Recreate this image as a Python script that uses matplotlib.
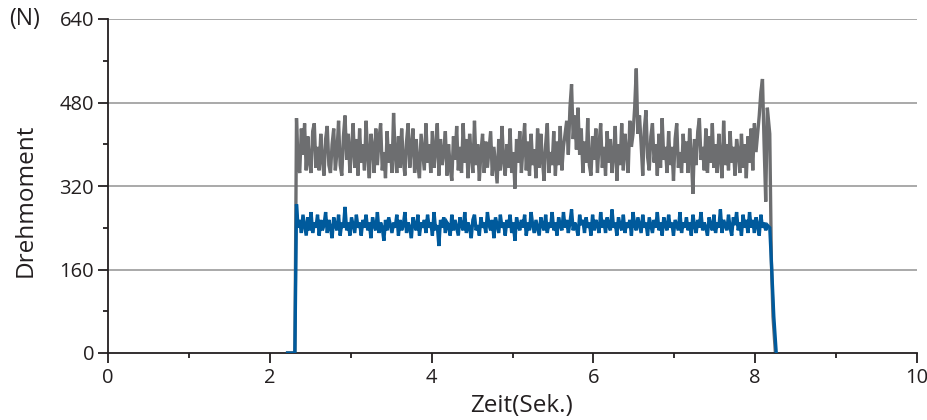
import numpy as np
import matplotlib
matplotlib.use("Agg")
import matplotlib.pyplot as plt
from matplotlib.ticker import MultipleLocator

plt.rcParams['font.family'] = ['Open Sans', 'DejaVu Sans']

# sampled section (time start / step of recording)
t0 = 2.33
dt = 0.02

gray_vals = [
    450, 360, 345, 430, 380, 440, 350, 415, 365, 345,
    425, 440, 355, 395, 350, 420, 370, 340, 410, 435,
    360, 345, 400, 430, 350, 385, 445, 360, 340, 415,
    455, 370, 420, 345, 390, 440, 355, 410, 340, 430,
    365, 400, 350, 445, 380, 335, 420, 395, 345, 430,
    360, 410, 440, 350, 385, 335, 425, 365, 400, 345,
    460, 380, 345, 415, 355, 430, 370, 340, 405, 440,
    355, 395, 430, 345, 410, 360, 335, 420, 385, 350,
    440, 365, 400, 345, 425, 355, 390, 440, 340, 410,
    360, 385, 425, 340, 400, 355, 330, 415, 370, 435,
    350, 395, 345, 440, 365, 410, 335, 420, 380, 345,
    445, 360, 400, 330, 385, 420, 345, 405, 355, 390,
    425, 340, 395, 360, 325, 410, 350, 435, 370, 340,
    400, 355, 430, 345, 385, 315, 410, 365, 425, 345,
    395, 440, 350, 405, 340, 420, 360, 390, 335, 430,
    355, 420, 370, 330, 400, 440, 345, 385, 360, 425,
    340, 405, 360, 435, 350, 395, 420, 445, 380, 470,
    515, 410, 455, 390, 470, 380, 430, 345, 405, 365,
    450, 360, 340, 415, 370, 430, 345, 400, 440, 355,
    395, 340, 425, 365, 410, 345, 380, 435, 330, 400,
    360, 440, 350, 420, 385, 345, 445, 395, 420, 470,
    545, 420, 455, 400, 340, 430, 465, 375, 350, 415,
    440, 365, 400, 340, 420, 355, 450, 370, 395, 345,
    425, 360, 395, 330, 410, 440, 355, 385, 345, 420,
    365, 405, 345, 430, 380, 305, 410, 360, 425, 450,
    370, 395, 350, 430, 345, 415, 365, 440, 355, 400,
    345, 420, 375, 335, 445, 360, 400, 350, 425, 365,
    395, 340, 410, 385, 345, 420, 355, 400, 335, 415,
    365, 430, 350, 440, 385, 420, 455, 500, 525, 400,
    290, 470,
]

blue_vals = [
    285, 240, 255, 230, 265, 245, 225, 260, 235, 270,
    230, 250, 240, 265, 225, 255, 235, 245, 270, 230,
    255, 240, 220, 260, 245, 235, 265, 225, 250, 240,
    280, 235, 250, 225, 260, 245, 230, 265, 240, 250,
    225, 255, 240, 265, 235, 250, 220, 260, 245, 235,
    270, 230, 250, 240, 215, 255, 235, 260, 245, 230,
    250, 240, 265, 225, 255, 235, 245, 270, 230, 250,
    240, 220, 260, 245, 235, 265, 225, 250, 240, 255,
    230, 265, 240, 250, 225, 270, 235, 245, 205, 255,
    240, 260, 230, 250, 245, 225, 265, 235, 255, 240,
    225, 260, 245, 235, 270, 230, 250, 240, 220, 255,
    265, 235, 245, 225, 260, 240, 250, 230, 270, 245,
    235, 255, 220, 260, 245, 230, 265, 240, 250, 225,
    255, 240, 265, 230, 250, 215, 260, 245, 235, 255,
    240, 265, 225, 250, 235, 270, 245, 230, 255, 240,
    225, 260, 245, 235, 265, 230, 250, 240, 270, 235,
    250, 225, 260, 245, 235, 270, 240, 255, 230, 250,
    275, 235, 250, 240, 225, 265, 245, 255, 230, 260,
    240, 250, 225, 265, 235, 255, 245, 230, 270, 240,
    255, 230, 260, 245, 235, 275, 240, 250, 225, 260,
    245, 235, 265, 230, 250, 240, 255, 225, 270, 245,
    235, 260, 245, 230, 265, 240, 250, 225, 260, 245,
    230, 255, 240, 270, 235, 250, 225, 260, 245, 235,
    265, 240, 250, 225, 255, 245, 235, 270, 230, 250,
    240, 260, 235, 250, 225, 265, 245, 230, 255, 240,
    270, 235, 250, 240, 225, 260, 245, 235, 265, 230,
    250, 240, 275, 230, 255, 245, 235, 265, 240, 225,
    260, 245, 270, 235, 250, 225, 265, 240, 255, 230,
    270, 240, 255, 230, 260, 245, 225, 265, 240, 250,
    235, 245,
]

# rise / fall edges
gray_start_t = [2.22, 2.31]
gray_start_v = [0, 0]
gray_end_t = [8.18, 8.20, 8.22, 8.25]
gray_end_v = [420, 175, 70, 0]

blue_start_t = [2.22, 2.31]
blue_start_v = [0, 0]
blue_end_t = [8.18, 8.20, 8.23, 8.26]
blue_end_v = [240, 175, 70, 0]

y_ticks = [0, 160, 320, 480, 640]
x_ticks = [0, 2, 4, 6, 8, 10]

def series(start_t, start_v, vals, end_t, end_v):
    tt = list(start_t) + [t0 + dt * i for i in range(len(vals))] + list(end_t)
    vv = list(start_v) + list(vals) + list(end_v)
    return tt, vv

gt, gv = series(gray_start_t, gray_start_v, gray_vals, gray_end_t, gray_end_v)
bt, bv = series(blue_start_t, blue_start_v, blue_vals, blue_end_t, blue_end_v)

fig = plt.figure(figsize=(9.28, 4.2), dpi=100)
ax = fig.add_axes([108/928, 1 - 353/420, (917-108)/928, (353-19)/420])

for y in y_ticks[1:]:
    ax.axhline(y, color='#a3a3a3', lw=1.3, zorder=1)

ax.plot(gt, gv, color='#6d6e70', lw=2.4, zorder=2, solid_joinstyle='miter')
ax.plot(bt, bv, color='#005a9c', lw=2.4, zorder=3, solid_joinstyle='miter')

ax.set_xlim(0, 10)
ax.set_ylim(0, 640)
ax.set_xticks(x_ticks)
ax.set_yticks(y_ticks)
ax.xaxis.set_minor_locator(MultipleLocator(1))
ax.yaxis.set_minor_locator(MultipleLocator(80))

for s in ['top', 'right']:
    ax.spines[s].set_visible(False)
for s in ['left', 'bottom']:
    ax.spines[s].set_color('#231f20')
    ax.spines[s].set_linewidth(1.3)

ax.tick_params(axis='both', which='major', direction='out', length=7, width=1.3,
               color='#231f20', labelsize=14.5, labelcolor='#231f20')
ax.tick_params(axis='both', which='minor', direction='out', length=3.5, width=1.3,
               color='#231f20')
ax.tick_params(axis='y', which='major', pad=3)
ax.tick_params(axis='x', which='major', pad=4)

fig.text(522/928, 1 - 406/420, 'Zeit(Sek.)', fontsize=17.5, color='#231f20',
         ha='center', va='center')
fig.text(26/928, 1 - 200/420, 'Drehmoment', fontsize=17.5, color='#231f20',
         ha='center', va='center', rotation=90)
fig.text(25/928, 1 - 19/420, '(N)', fontsize=16.5, color='#231f20', ha='center', va='center')

fig.savefig('out.png', dpi=100)
